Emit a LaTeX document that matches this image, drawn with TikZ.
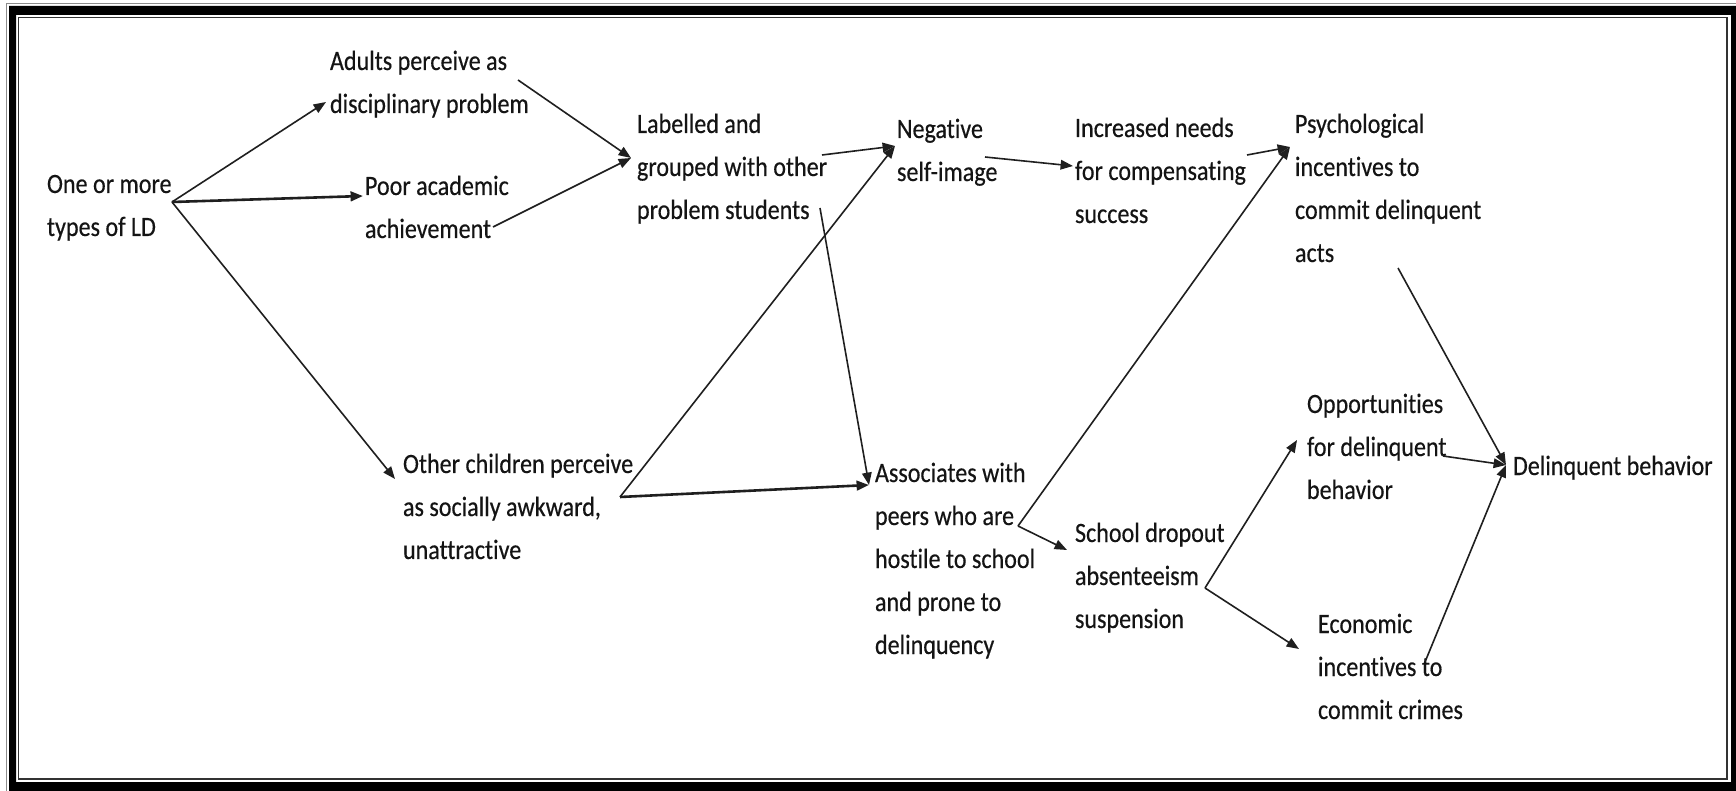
\documentclass[tikz,border=0pt]{standalone}
\usepackage{fontspec}
\setmainfont{Carlito}[FakeStretch=0.86,FakeBold=0.4,Ligatures=NoCommon]
\usetikzlibrary{arrows.meta}
\newcommand{\txtlines}[1]{\begin{tabular}[t]{@{}l@{}}#1\end{tabular}}
\begin{document}
\begin{tikzpicture}[x=0.5pt,y=-0.5pt,
  lbl/.style={anchor=base west, inner sep=0pt, outer sep=0pt,
    font=\fontsize{14pt}{21.5pt}\selectfont, text=black!92},
  arr/.style={draw=black!88, line width=0.8pt, -{Triangle[length=6.2pt,width=4.8pt]}},
  thickarr/.style={arr, line width=1.3pt}]
\clip (0,0) rectangle (1736,791);
\fill[white] (0,0) rectangle (1736,791);
% frame
\fill[black, even odd rule] (9,6) rectangle (1745,800) (16,15) rectangle (1731,782);
\draw[black!80, line width=0.75pt] (18.5,17.5) rectangle (1727,779);
\draw[black!45, line width=0.5pt] (6.5,800) -- (6.5,3.5) -- (1745,3.5);

% nodes (position = baseline of first line)
\node[lbl] (A) at (47,193) {\txtlines{One or more\\types of LD}};
\node[lbl] (B) at (330,70) {\txtlines{Adults perceive as\\disciplinary problem}};
\node[lbl] (C) at (365,195) {\txtlines{Poor academic\\achievement}};
\node[lbl] (D) at (637,133) {\txtlines{Labelled and\\grouped with other\\problem students}};
\node[lbl] (E) at (897,138) {\txtlines{Negative\\self-image}};
\node[lbl] (F) at (1075,137) {\txtlines{Increased needs\\for compensating\\success}};
\node[lbl] (G) at (1295,133) {\txtlines{Psychological\\incentives to\\commit delinquent\\acts}};
\node[lbl] (H) at (403,473) {\txtlines{Other children perceive\\as socially awkward,\\unattractive}};
\node[lbl] (I) at (875,482) {\txtlines{Associates with\\peers who are\\hostile to school\\and prone to\\delinquency}};
\node[lbl] (J) at (1075,542) {\txtlines{School dropout\\absenteeism\\suspension}};
\node[lbl] (K) at (1307,413) {\txtlines{Opportunities\\for delinquent\\behavior}};
\node[lbl] (L) at (1318,633) {\txtlines{Economic\\incentives to\\commit crimes}};
\node[lbl] (M) at (1513,475) {\txtlines{Delinquent behavior}};

% connector end points
\coordinate (oA) at (172,202);
\coordinate (tB) at (326,102);
\coordinate (tC) at (363,196);
\coordinate (tH) at (395,479);
\coordinate (oB) at (518,80);
\coordinate (oC) at (493,227);
\coordinate (tD) at (631,158);
\coordinate (oD1) at (822,155);
\coordinate (oD2) at (820,208);
\coordinate (tE) at (895,146);
\coordinate (oE) at (985,157);
\coordinate (tF) at (1073,166);
\coordinate (oF) at (1247,155);
\coordinate (tG) at (1290,147);
\coordinate (oG) at (1398,268);
\coordinate (oH) at (620,497);
\coordinate (tI) at (869,485);
\coordinate (oI) at (1018,526);
\coordinate (tJ) at (1067,550);
\coordinate (oJ) at (1205,588);
\coordinate (tK) at (1297,440);
\coordinate (tL) at (1299,649);
\coordinate (oK) at (1443,456);
\coordinate (oL) at (1425,662);
\coordinate (tM) at (1506,465);

% connectors
\draw[arr] (oA) -- (tB);
\draw[thickarr] (oA) -- (tC);
\draw[arr] (oA) -- (tH);
\draw[arr] (oB) -- (tD);
\draw[arr] (oC) -- (tD);
\draw[arr] (oD1) -- (tE);
\draw[arr] (oH) -- (tE);
\draw[arr] (oD2) -- (tI);
\draw[thickarr] (oH) -- (tI);
\draw[arr] (oE) -- (tF);
\draw[arr] (oF) -- (tG);
\draw[arr] (oI) -- (tG);
\draw[arr] (oI) -- (tJ);
\draw[arr] (oJ) -- (tK);
\draw[arr] (oJ) -- (tL);
\draw[arr] (oG) -- (tM);
\draw[arr] (oK) -- (tM);
\draw[arr] (oL) -- (tM);
\end{tikzpicture}
\end{document}
